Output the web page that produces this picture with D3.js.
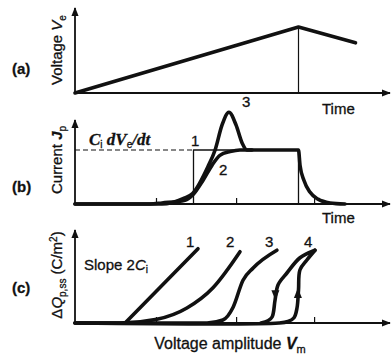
<!DOCTYPE html>
<html>
<head>
<meta charset="utf-8">
<script src="https://cdn.jsdelivr.net/npm/d3@7"></script>
<style>
body { margin: 0; background: #fff; }
text { font-family: "Liberation Sans", Arial, sans-serif; fill: #111; stroke: #111; stroke-width: 0.3; }
</style>
</head>
<body>
<div id="chart"></div>
<script>
// panel (a): applied voltage ramp
var rampTime = [0, 7.45, 9.35];
var rampVolt = [0, 1, 0.76];

// panel (b): current curves
var rectTime = [3.95, 3.95, 7.45, 7.45];
var rectCur = [0, 1, 1, 0];
var c2Time = [0, 2.5, 2.9, 3.67, 3.93, 4.27, 4.57, 4.83, 5.17, 5.5, 7.45, 7.5, 7.63, 7.83, 8.1, 8.5, 9.0];
var c2Cur = [0, 0, 0.02, 0.07, 0.17, 0.44, 0.72, 0.9, 0.97, 1, 1, 0.72, 0.44, 0.22, 0.09, 0.02, 0];
var c3Time = [0, 2.9, 3.6, 3.93, 4.43, 4.67, 4.9, 5.13, 5.37, 5.57, 5.73, 5.9];
var c3Cur = [0, 0, 0.1, 0.2, 0.69, 1.0, 1.46, 1.7, 1.46, 1.13, 1.0, 1.0];
var tickTimes = [2.7, 5.37, 7.97];

// panel (c): charge vs amplitude
var q1Amp = [1.67, 4.1];
var q1Val = [0, 0.99];
var q2Amp = [0, 1.5, 2.73, 3.73, 4.6, 5.5];
var q2Val = [0, 0, 0.05, 0.2, 0.47, 0.95];
var q3Amp = [0, 4.4, 4.93, 5.27, 5.6, 5.93, 6.73];
var q3Val = [0, 0, 0.04, 0.21, 0.57, 0.73, 0.97];
var q4UpAmp = [0, 6.8, 7.1, 7.3, 7.4, 7.45, 7.5, 7.73, 8.0];
var q4UpVal = [0, 0, 0.02, 0.07, 0.2, 0.44, 0.71, 0.84, 0.97];
var q4DownAmp = [8.0, 7.5, 7.07, 6.77, 6.67, 6.57, 6.43, 6.2];
var q4DownVal = [0.97, 0.87, 0.67, 0.51, 0.31, 0.08, 0.03, 0];
var curveLabels = ["1", "2", "3", "4"];
var labelAmp = [3.7, 5.03, 6.33, 7.63];

function zip(a, b) {
    return a.map(function (d, i) { return [d, b[i]]; });
}

var w = 392, h = 363;
var svg = d3.select("#chart").append("svg")
    .attr("width", w).attr("height", h);

svg.append("defs").append("marker")
    .attr("id", "arr")
    .attr("viewBox", "0 0 10 10")
    .attr("refX", 9).attr("refY", 5)
    .attr("markerWidth", 5).attr("markerHeight", 5)
    .attr("markerUnits", "strokeWidth")
    .attr("orient", "auto")
    .append("path").attr("d", "M0,1 L10,5 L0,9 Z").attr("fill", "#111");

var x = d3.scaleLinear().domain([0, 10]).range([75, 375]);
var ya = d3.scaleLinear().domain([0, 1]).range([93, 27]);
var yb = d3.scaleLinear().domain([0, 1]).range([204, 150]);
var yc = d3.scaleLinear().domain([0, 1]).range([323, 248]);

function axes(y, top) {
    svg.append("line")
        .attr("x1", x(0)).attr("y1", y(0)).attr("x2", 390).attr("y2", y(0))
        .attr("stroke", "#111").attr("stroke-width", 1.8)
        .attr("marker-end", "url(#arr)");
    svg.append("line")
        .attr("x1", x(0)).attr("y1", y(0)).attr("x2", x(0)).attr("y2", top)
        .attr("stroke", "#111").attr("stroke-width", 1.8)
        .attr("marker-end", "url(#arr)");
}

function curve(xs, vs, y, width, type) {
    var line = d3.line()
        .x(function (d) { return x(d[0]); })
        .y(function (d) { return y(d[1]); })
        .curve(type || d3.curveLinear);
    return svg.append("path")
        .attr("d", line(zip(xs, vs)))
        .attr("fill", "none").attr("stroke", "#111")
        .attr("stroke-width", width)
        .attr("stroke-linejoin", "round").attr("stroke-linecap", "round");
}

function tickAxis(y) {
    var g = svg.append("g")
        .attr("transform", "translate(0," + y(0) + ")")
        .call(d3.axisBottom(x).tickValues(tickTimes).tickSize(-6).tickFormat(""));
    g.select(".domain").remove();
    g.selectAll("line").attr("stroke", "#111").attr("stroke-width", 1.2);
}

// ---- panel (a)
axes(ya, 8);
svg.append("line")
    .attr("x1", x(rampTime[1])).attr("x2", x(rampTime[1]))
    .attr("y1", ya(0)).attr("y2", ya(rampVolt[1]))
    .attr("stroke", "#111").attr("stroke-width", 1.2);
curve(rampTime, rampVolt, ya, 3.6);

svg.append("text").attr("x", 12).attr("y", 74).attr("font-size", 15).attr("font-weight", "bold").text("(a)");
svg.append("text").attr("x", 322).attr("y", 114).attr("font-size", 15).text("Time");
var ta = svg.append("text").attr("transform", "translate(62,50) rotate(-90)")
    .attr("text-anchor", "middle").attr("font-size", 15);
ta.append("tspan").text("Voltage ");
ta.append("tspan").attr("font-style", "italic").text("V");
ta.append("tspan").attr("font-size", 10).attr("dy", 4).text("e");

// ---- panel (b)
axes(yb, 120);
tickAxis(yb);
svg.append("line")
    .attr("x1", x(0)).attr("x2", x(rectTime[0]))
    .attr("y1", yb(1)).attr("y2", yb(1))
    .attr("stroke", "#111").attr("stroke-width", 1.2)
    .attr("stroke-dasharray", "5,3");
curve(rectTime, rectCur, yb, 1.3);
curve(c2Time, c2Cur, yb, 3.6, d3.curveMonotoneX);
curve(c3Time, c3Cur, yb, 3.6, d3.curveMonotoneX);

svg.append("text").attr("x", 12).attr("y", 192).attr("font-size", 15).attr("font-weight", "bold").text("(b)");
svg.append("text").attr("x", 322).attr("y", 223).attr("font-size", 15).text("Time");
svg.append("text").attr("x", 191).attr("y", 146).attr("font-size", 15).text("1");
svg.append("text").attr("x", 219).attr("y", 175).attr("font-size", 15).text("2");
svg.append("text").attr("x", 242).attr("y", 107).attr("font-size", 15).text("3");
var cd = svg.append("text").attr("x", 89).attr("y", 145).attr("font-size", 17)
    .style("font-family", "'Liberation Serif', serif").attr("font-style", "italic").attr("font-weight", "bold");
cd.append("tspan").text("C");
cd.append("tspan").attr("font-size", 10).attr("dy", 3).attr("font-style", "normal").attr("font-weight", "normal")
    .style("font-family", "'Liberation Sans', sans-serif").text("i");
cd.append("tspan").attr("dy", -3).text(" dV");
cd.append("tspan").attr("font-size", 10).attr("dy", 3).attr("font-style", "normal").attr("font-weight", "normal")
    .style("font-family", "'Liberation Sans', sans-serif").text("e");
cd.append("tspan").attr("dy", -3).text("/dt");
var tb = svg.append("text").attr("transform", "translate(62,160) rotate(-90)")
    .attr("text-anchor", "middle").attr("font-size", 15);
tb.append("tspan").text("Current ");
tb.append("tspan").attr("font-style", "italic").attr("font-weight", "bold").text("J");
tb.append("tspan").attr("font-size", 10).attr("dy", 4).text("p");

// ---- panel (c)
axes(yc, 230);
tickAxis(yc);
curve(q1Amp, q1Val, yc, 3.6);
curve(q2Amp, q2Val, yc, 3.6, d3.curveMonotoneX);
curve(q3Amp, q3Val, yc, 3.6, d3.curveMonotoneX);
curve(q4UpAmp, q4UpVal, yc, 3.6, d3.curveCatmullRom);
curve(q4DownAmp, q4DownVal, yc, 3.6, d3.curveCatmullRom);

// direction arrows on loop 4
svg.append("path").attr("d", "M-4,-5 L4,-5 L0,5 Z").attr("fill", "#111")
    .attr("transform", "translate(" + x(6.68) + "," + yc(0.37) + ")");
svg.append("path").attr("d", "M-4,5 L4,5 L0,-5 Z").attr("fill", "#111")
    .attr("transform", "translate(" + x(7.43) + "," + yc(0.4) + ")");

svg.selectAll(".clabel").data(curveLabels).enter().append("text")
    .attr("class", "clabel")
    .attr("x", function (d, i) { return x(labelAmp[i]); })
    .attr("y", 247).attr("font-size", 15)
    .text(function (d) { return d; });

var sl = svg.append("text").attr("x", 84).attr("y", 270).attr("font-size", 15);
sl.append("tspan").text("Slope 2");
sl.append("tspan").attr("font-style", "italic").text("C");
sl.append("tspan").attr("font-size", 10).attr("dy", 3).text("i");

svg.append("text").attr("x", 12).attr("y", 293).attr("font-size", 15).attr("font-weight", "bold").text("(c)");
var xl = svg.append("text").attr("x", 230).attr("y", 349).attr("text-anchor", "middle").attr("font-size", 16);
xl.append("tspan").text("Voltage amplitude ");
xl.append("tspan").attr("font-style", "italic").attr("font-weight", "bold").text("V");
xl.append("tspan").attr("font-size", 11).attr("dy", 4).text("m");

var tc = svg.append("text").attr("transform", "translate(62,275) rotate(-90)")
    .attr("text-anchor", "middle").attr("font-size", 15);
tc.append("tspan").text("\u0394");
tc.append("tspan").attr("font-style", "italic").text("Q");
tc.append("tspan").attr("font-size", 10).attr("dy", 4).text("p,ss");
tc.append("tspan").attr("dy", -4).text(" (C/m");
tc.append("tspan").attr("font-size", 10).attr("dy", -5).text("2");
tc.append("tspan").attr("dy", 5).text(")");
</script>
</body>
</html>
